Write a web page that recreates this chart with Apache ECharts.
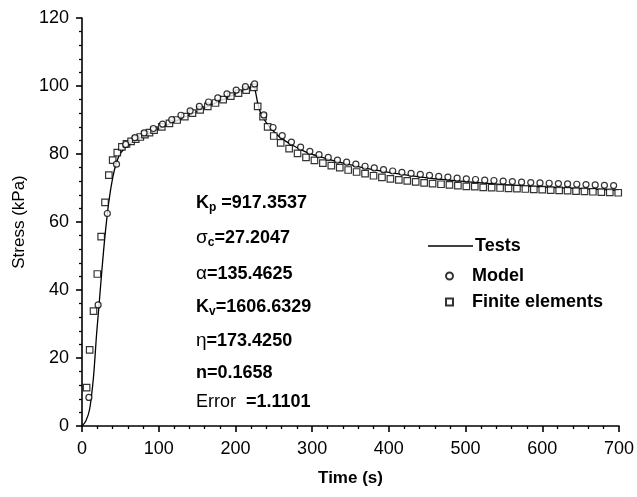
<!DOCTYPE html>
<html>
<head>
<meta charset="utf-8">
<script src="https://cdn.jsdelivr.net/npm/echarts@6/dist/echarts.min.js"></script>
<style>
  * { margin: 0; padding: 0; }
  html, body { background: #fff; }
  #chart { width: 637px; height: 497px; }
</style>
</head>
<body>
<div id="chart"></div>
<script>
// Tests (solid line): [time s, stress kPa]
const testsTime   = [0, 5, 10, 15, 19, 22, 26, 30, 35, 40, 45, 50, 60, 80, 100, 150, 200, 224, 226, 229, 233, 240, 250, 260, 275, 290, 310, 330, 360, 400, 450, 500, 550, 600, 650, 700];
const testsStress = [0, 1.5, 5, 14.5, 27, 35, 46, 56, 66, 73, 77.5, 80.2, 82.6, 85.3, 87.4, 92.5, 97.6, 99.7, 98.5, 95, 92, 89.3, 86.6, 84.6, 82.5, 80.8, 79.2, 77.9, 76.3, 74.6, 73.0, 71.9, 71.0, 70.3, 69.8, 69.3];

// Model (circles)
const modelTime   = [9, 21, 33, 45, 57, 69, 81, 93, 105, 117, 129, 141, 153, 165, 177, 189, 201, 213, 225,
  237, 249, 261, 273, 285, 297, 309, 321, 333, 345, 357, 369, 381, 393, 405, 417, 429, 441, 453, 465, 477,
  489, 501, 513, 525, 537, 549, 561, 573, 585, 597, 609, 621, 633, 645, 657, 669, 681, 693];
const modelStress = [8.4, 35.6, 62.5, 77.0, 82.8, 84.8, 86.2, 87.5, 88.8, 90.1, 91.4, 92.7, 94.0, 95.3, 96.5, 97.7, 98.8, 99.8, 100.6,
  91.5, 87.8, 85.4, 83.5, 82.0, 80.8, 79.8, 79.0, 78.2, 77.6, 77.0, 76.4, 75.9, 75.4, 75.0, 74.6, 74.3, 74.0, 73.7, 73.4, 73.2,
  72.9, 72.7, 72.5, 72.3, 72.2, 72.0, 71.9, 71.7, 71.6, 71.5, 71.4, 71.3, 71.2, 71.1, 71.0, 70.9, 70.8, 70.7];

// Finite elements (squares)
const feTime   = [6, 10, 15, 20, 25, 30, 35, 40, 46, 52, 58, 64, 70, 76, 82, 88, 94, 104, 114, 124, 134, 144, 154, 164, 174, 184, 194, 204, 214, 224,
  229, 236, 242, 250, 259, 270, 281, 292, 303, 314, 325, 336, 347, 358, 369, 380, 391, 402, 413, 424, 435, 446, 457, 468, 479,
  490, 501, 512, 523, 534, 545, 556, 567, 578, 589, 600, 611, 622, 633, 644, 655, 666, 677, 688, 699];
const feStress = [11.3, 22.4, 33.8, 44.7, 55.7, 65.8, 73.8, 78.2, 80.4, 82.1, 83.0, 83.7, 84.4, 85.0, 85.7, 86.3, 87.0, 88.0, 89.0, 90.0, 91.0, 92.0, 93.0, 94.0, 95.0, 96.0, 97.0, 97.9, 98.8, 99.6,
  94.0, 91.0, 88.0, 85.3, 83.3, 81.6, 80.2, 79.0, 78.1, 77.3, 76.6, 76.0, 75.3, 74.7, 74.2, 73.6, 73.1, 72.7, 72.4, 72.1, 71.8, 71.5, 71.3, 71.1, 70.9,
  70.7, 70.5, 70.4, 70.2, 70.1, 70.0, 69.9, 69.8, 69.7, 69.6, 69.5, 69.4, 69.3, 69.2, 69.1, 69.0, 68.9, 68.8, 68.7, 68.6];

// fitted parameters shown in the plot
const paramLines = [
  '{b|K}{s|p}{b| =917.3537}',
  '{g|σ}{s|c}{b|=27.2047}',
  '{g|α}{b|=135.4625}',
  '{b|K}{s|v}{b|=1606.6329}',
  '{g|η}{b|=173.4250}',
  '{b|n=0.1658}',
  '{r|Error  }{b|=1.1101}'
];
const paramY = [203, 238, 274, 307, 341, 373, 402];

const zip = (a, b) => a.map((v, i) => [v, b[i]]);

const font = 'Liberation Sans, Arial, Helvetica, sans-serif';
const chart = echarts.init(document.getElementById('chart'));

const axisCommon = {
  axisLine: { lineStyle: { color: '#000', width: 1.6 } },
  axisTick: { length: 6, lineStyle: { color: '#000', width: 1.6 } },
  minorTick: { show: true, splitNumber: 5, length: 3, lineStyle: { color: '#000', width: 1.3 } },
  splitLine: { show: false }
};

const rich = {
  b: { fontSize: 18, fontWeight: 'bold', fontFamily: font, color: '#000' },
  r: { fontSize: 18, fontFamily: font, color: '#000' },
  g: { fontSize: 19, fontFamily: font, color: '#000' },
  s: { fontSize: 12, fontWeight: 'bold', fontFamily: font, color: '#000', verticalAlign: 'bottom', padding: [9, 0, 0, 0] }
};

chart.setOption({
  animation: false,
  backgroundColor: '#fff',
  color: ['#000'],
  grid: { left: 82, right: 16, top: 18, bottom: 71 },
  xAxis: Object.assign({
    type: 'value', min: 0, max: 700, interval: 100,
    name: 'Time (s)', nameLocation: 'middle', nameGap: 44,
    nameTextStyle: { color: '#000', fontSize: 17, fontWeight: 'bold', fontFamily: font },
    axisLabel: { color: '#000', fontSize: 18, fontFamily: font, margin: 14 }
  }, axisCommon),
  yAxis: Object.assign({
    type: 'value', min: 0, max: 120, interval: 20,
    name: 'Stress (kPa)', nameLocation: 'middle', nameGap: 46,
    nameTextStyle: { color: '#000', fontSize: 17, fontFamily: font },
    axisLabel: { color: '#000', fontSize: 18, fontFamily: font, margin: 13 }
  }, axisCommon),
  legend: [
    {
      data: [{ name: 'Tests', icon: 'path://M0,0H45V1.6H0Z', itemStyle: { color: '#000' } }],
      left: 423, top: 232, itemWidth: 45, itemHeight: 2, itemGap: 0,
      textStyle: { color: '#000', fontSize: 18, fontWeight: 'bold', fontFamily: font, padding: [0, 0, 0, -3] }
    },
    {
      data: ['Model', 'Finite elements'],
      orient: 'vertical', left: 440, top: 262, itemWidth: 7, itemHeight: 7, itemGap: 8,
      textStyle: { color: '#000', fontSize: 18, fontWeight: 'bold', fontFamily: font, padding: [0, 0, 0, 14] }
    }
  ],
  graphic: paramLines.map((t, i) => ({
    type: 'text', x: 196, y: paramY[i],
    style: { text: t, rich: rich, verticalAlign: 'middle' }
  })),
  series: [
    {
      name: 'Tests', type: 'line', data: zip(testsTime, testsStress),
      symbol: 'none', smooth: 0.3, z: 1,
      itemStyle: { color: '#000' },
      lineStyle: { color: '#000', width: 1.3 }
    },
    {
      name: 'Model', type: 'scatter', data: zip(modelTime, modelStress),
      symbol: 'circle', symbolSize: 6, z: 3,
      itemStyle: { color: '#fff', borderColor: '#000', borderWidth: 1.2 }
    },
    {
      name: 'Finite elements', type: 'scatter', data: zip(feTime, feStress),
      symbol: 'rect', symbolSize: 6.5, z: 2,
      itemStyle: { color: '#fff', borderColor: '#000', borderWidth: 1.2 }
    }
  ]
});
</script>
</body>
</html>
